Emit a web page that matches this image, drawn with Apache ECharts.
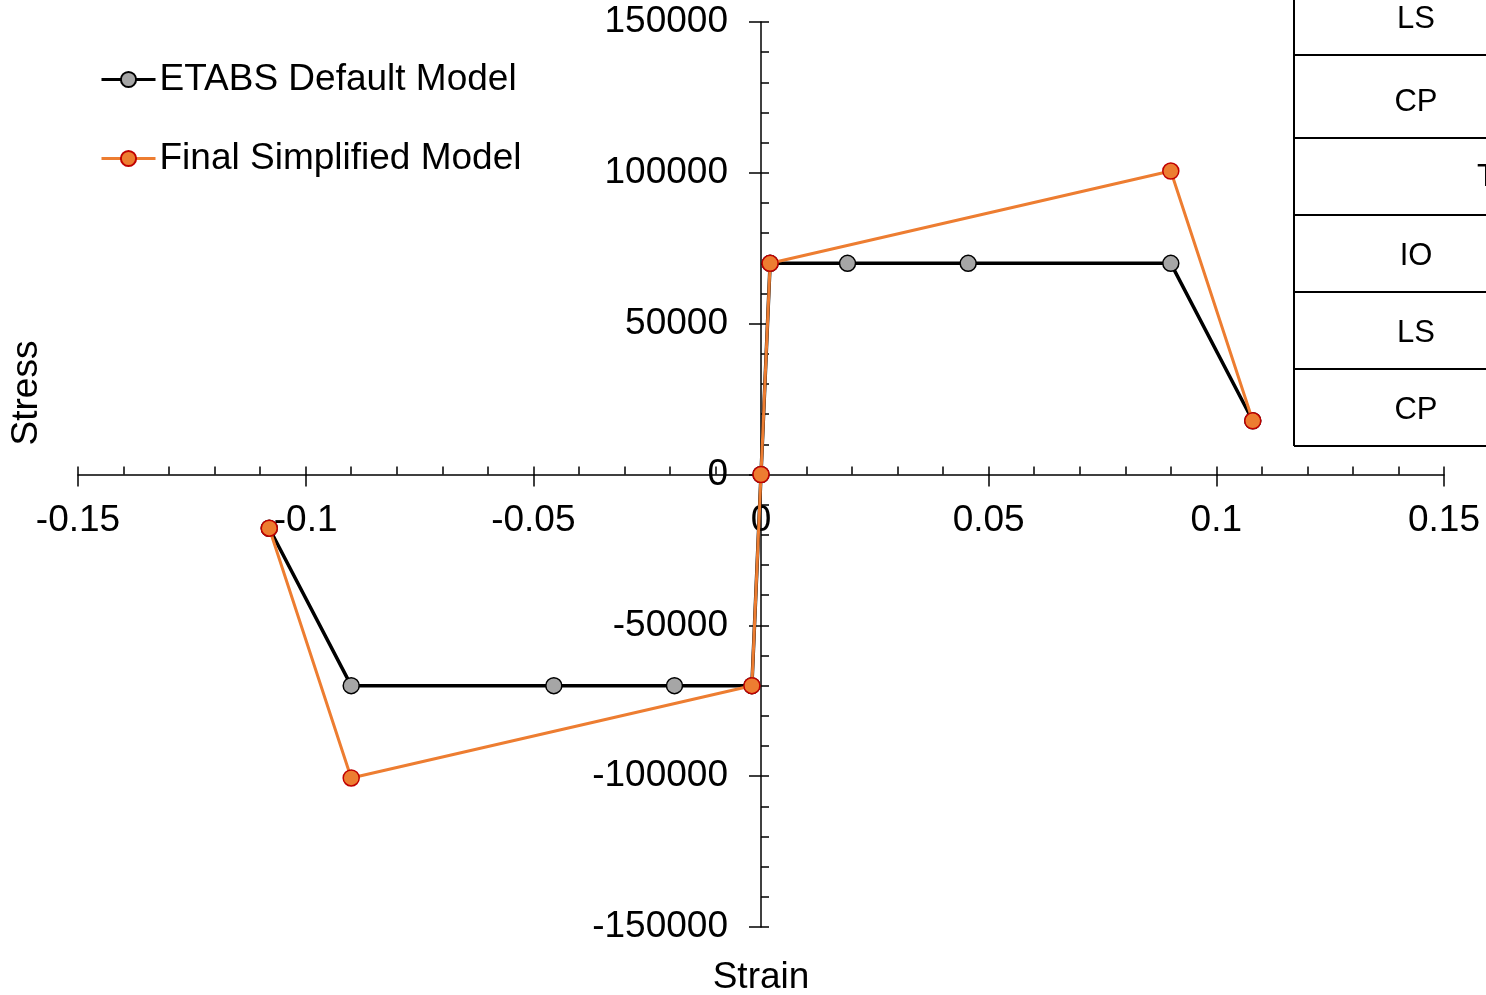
<!DOCTYPE html>
<html>
<head>
<meta charset="utf-8">
<script src="https://cdn.jsdelivr.net/npm/echarts@6/dist/echarts.min.js"></script>
<style>
html,body{margin:0;padding:0;background:#fff;}
#chart{width:1486px;height:995px;}
</style>
</head>
<body>
<div id="chart"></div>
<script>
// ---- Data ----
const seriesNames = ['ETABS Default Model', 'Final Simplified Model'];
const etabsStrain = [-0.108, -0.09, -0.0455, -0.019, -0.002, 0, 0.002, 0.019, 0.0455, 0.09, 0.108];
const etabsStress = [-17800, -70000, -70000, -70000, -70000, 0, 70000, 70000, 70000, 70000, 17800];
const finalStrain = [-0.108, -0.09, -0.002, 0, 0.002, 0.09, 0.108];
const finalStress = [-17800, -100600, -70000, 0, 70000, 100600, 17800];
const tableLabels = ['LS', 'CP', 'T', 'IO', 'LS', 'CP'];
const xTitle = 'Strain';
const yTitle = 'Stress';
const xRange = [-0.15, 0.15];
const yRange = [-150000, 150000];

const FONT = '"Liberation Sans", Arial, sans-serif';
const FS = 37;
const zip = (a, b) => a.map((v, i) => [v, b[i]]);

const chart = echarts.init(document.getElementById('chart'), null, {renderer: 'canvas'});

const blk = {color: '#000', width: 1.5};
const LEFT = 78, RIGHT = 42, TOP = 22, BOTTOM = 68, W = 1486, H = 995;
const plotW = W - LEFT - RIGHT, plotH = H - TOP - BOTTOM;
const zeroX = LEFT + plotW * (0 - xRange[0]) / (xRange[1] - xRange[0]);
const zeroY = TOP + plotH * (yRange[1] - 0) / (yRange[1] - yRange[0]);

const tableLines = [55, 138, 215, 292, 369, 446];
const tableTextY = [19, 102, 177, 256, 333, 410];
const graphics = [
  {type: 'line', shape: {x1: 1294, y1: 0, x2: 1294, y2: 446}, style: {stroke: '#000', lineWidth: 2}},
];
tableLines.forEach(y => graphics.push({type: 'line', shape: {x1: 1294, y1: y, x2: 1486, y2: y}, style: {stroke: '#000', lineWidth: 2}}));
tableLabels.forEach((t, i) => {
  const isCut = t === 'T';
  graphics.push({type: 'text', x: isCut ? 1477 : 1416, y: tableTextY[i],
    style: {text: t, font: '31px ' + FONT, fill: '#000', align: isCut ? 'left' : 'center', verticalAlign: 'middle'}});
});
graphics.push({type: 'text', x: 761, y: 978, style: {text: xTitle, font: FS + 'px ' + FONT, fill: '#000', align: 'center', verticalAlign: 'middle'}});
graphics.push({type: 'text', x: 27, y: 393, rotation: Math.PI / 2, style: {text: yTitle, font: FS + 'px ' + FONT, fill: '#000', align: 'center', verticalAlign: 'middle'}});

const hidden = {axisLine: {show: false}, axisTick: {show: false}, axisLabel: {show: false}, splitLine: {show: false}};

const option = {
  backgroundColor: '#fff',
  animation: false,
  grid: [
    {left: LEFT, right: RIGHT, top: TOP, bottom: BOTTOM, containLabel: false, outerBoundsMode: 'none'},
    {left: LEFT, right: RIGHT, top: TOP, height: zeroY - TOP, containLabel: false, outerBoundsMode: 'none'},
    {left: zeroX, right: RIGHT, top: TOP, bottom: BOTTOM, containLabel: false, outerBoundsMode: 'none'}
  ],
  legend: {
    orient: 'vertical', left: 100, top: 61, itemGap: 42, padding: 0,
    itemWidth: 54, itemHeight: 19,
    lineStyle: {width: 3},
    textStyle: {fontFamily: FONT, fontSize: FS, color: '#000', padding: [0, 0, 0, -1]},
    data: seriesNames
  },
  xAxis: [
    Object.assign({type: 'value', gridIndex: 0, min: xRange[0], max: xRange[1]}, hidden),
    {type: 'value', gridIndex: 1, min: xRange[0], max: xRange[1], interval: 0.05, position: 'bottom',
     axisLine: {show: true, onZero: false, lineStyle: blk},
     axisTick: {show: true, inside: false, length: 12, lineStyle: blk},
     axisLabel: {fontFamily: FONT, fontSize: FS, color: '#000', margin: 28, formatter: v => String(+v.toFixed(2))},
     splitLine: {show: false}},
    {type: 'value', gridIndex: 1, min: xRange[0], max: xRange[1], interval: 0.01, position: 'bottom',
     axisLine: {show: false, onZero: false},
     axisTick: {show: true, inside: true, length: 8, lineStyle: blk},
     axisLabel: {show: false}, splitLine: {show: false}},
    Object.assign({type: 'value', gridIndex: 2, min: 0, max: 1}, hidden)
  ],
  yAxis: [
    Object.assign({type: 'value', gridIndex: 0, min: yRange[0], max: yRange[1]}, hidden),
    Object.assign({type: 'value', gridIndex: 1, min: 0, max: 1}, hidden),
    {type: 'value', gridIndex: 2, min: yRange[0], max: yRange[1], interval: 50000, position: 'left',
     axisLine: {show: true, onZero: false, lineStyle: blk},
     axisTick: {show: true, inside: false, length: 12, lineStyle: blk},
     axisLabel: {fontFamily: FONT, fontSize: FS, color: '#000', margin: 33, padding: [4, 0, 0, 0], formatter: v => String(v)},
     splitLine: {show: false}},
    {type: 'value', gridIndex: 2, min: yRange[0], max: yRange[1], interval: 10000, position: 'left',
     axisLine: {show: false, onZero: false},
     axisTick: {show: true, inside: true, length: 8, lineStyle: blk},
     axisLabel: {show: false}, splitLine: {show: false}}
  ],
  series: [
    {name: seriesNames[0], type: 'line', xAxisIndex: 0, yAxisIndex: 0,
     data: zip(etabsStrain, etabsStress),
     symbol: 'circle', symbolSize: 16, showAllSymbol: true,
     lineStyle: {color: '#000', width: 3.5},
     itemStyle: {color: '#a6a6a6', borderColor: '#000', borderWidth: 1.5},
     z: 2},
    {name: seriesNames[1], type: 'line', xAxisIndex: 0, yAxisIndex: 0,
     data: zip(finalStrain, finalStress),
     symbol: 'circle', symbolSize: 16, showAllSymbol: true,
     lineStyle: {color: '#ed7d31', width: 3},
     itemStyle: {color: '#ed7d31', borderColor: '#c00000', borderWidth: 1.5},
     z: 3}
  ],
  graphic: graphics
};
chart.setOption(option);
</script>
</body>
</html>
